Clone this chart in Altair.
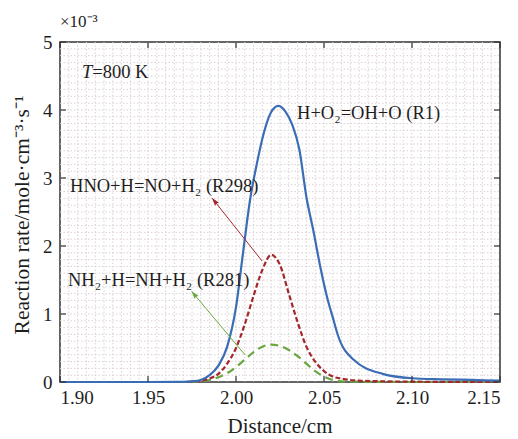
import altair as alt
import pandas as pd

# ---- data (y in units of 1e-3) ----
r1_x = [1.90, 1.95, 1.97, 1.975, 1.98, 1.985, 1.99, 1.995, 2.000, 2.004, 2.008, 2.012,
        2.016, 2.020, 2.024, 2.028, 2.032, 2.036, 2.040, 2.044, 2.048, 2.052, 2.055,
        2.058, 2.0667, 2.0833, 2.10, 2.1167, 2.1333, 2.15]
r1_y = [0.0, 0.0, 0.003, 0.01, 0.03, 0.10, 0.24, 0.52, 1.10, 1.90, 2.68, 3.23,
        3.68, 3.97, 4.06, 3.98, 3.78, 3.42, 2.72, 2.22, 1.68, 1.22, 0.95,
        0.68, 0.33, 0.12, 0.055, 0.04, 0.03, 0.02]

r298_x = [1.90, 1.95, 1.97, 1.98, 1.985, 1.99, 1.995, 2.000, 2.005, 2.010, 2.015, 2.020,
          2.025, 2.030, 2.035, 2.040, 2.045, 2.050, 2.055, 2.060, 2.0667, 2.0833, 2.10, 2.15]
r298_y = [0.0, 0.0, 0.0, 0.02, 0.05, 0.12, 0.27, 0.50, 0.85, 1.27, 1.65, 1.87,
          1.72, 1.30, 0.88, 0.52, 0.30, 0.16, 0.08, 0.05, 0.025, 0.01, 0.005, 0.0]

r281_x = [1.90, 1.95, 1.97, 1.98, 1.985, 1.99, 1.995, 2.000, 2.005, 2.010, 2.015, 2.020,
          2.025, 2.030, 2.035, 2.040, 2.045, 2.050, 2.055, 2.060, 2.0667, 2.10, 2.15]
r281_y = [0.0, 0.0, 0.0, 0.01, 0.03, 0.07, 0.13, 0.22, 0.33, 0.44, 0.52, 0.55,
          0.53, 0.47, 0.38, 0.27, 0.16, 0.08, 0.03, 0.01, 0.005, 0.0, 0.0]

x_ticks = [1.90, 1.95, 2.00, 2.05, 2.10, 2.15]
y_ticks = [0, 1, 2, 3, 4, 5]
x_grid = [round(1.905 + 0.005 * i, 3) for i in range(49)]
y_grid = [round(0.1 * i, 1) for i in range(1, 50)]

x_title = "Distance/cm"
y_title = "Reaction rate/mole\u00b7cm\u207b\u00b3\u00b7s\u207b\u00b9"

labels_text = ["H+O\u2082=OH+O (R1)", "HNO+H=NO+H\u2082 (R298)", "NH\u2082+H=NH+H\u2082 (R281)"]
labels_x = [2.0347, 1.9057, 1.9045]
labels_y = [3.96, 2.88, 1.50]

arrows = pd.DataFrame({
    "name": ["R298", "R281"],
    "x0": [2.0148, 2.0051], "y0": [1.78, 0.40],
    "x1": [1.9881, 1.9765], "y1": [2.65, 1.28],
    "color": ["#a3282e", "#6aa640"],
})

FONT = "Liberation Serif"
TXT = "#1e1e1e"
W, H = 440, 340

xs = alt.Scale(domain=[1.90, 2.15], nice=False, zero=False)
ys = alt.Scale(domain=[0, 5], nice=False, zero=False)

def line_df(xv, yv):
    return pd.DataFrame({"x": xv, "y": yv})

grid_x = alt.Chart(pd.DataFrame({"g": x_grid})).mark_rule(
    color="#dcd0d4", strokeDash=[1.5, 2], strokeWidth=1
).encode(x=alt.X("g:Q", scale=xs), y=alt.value(0), y2=alt.value(H))

grid_y = alt.Chart(pd.DataFrame({"g": y_grid})).mark_rule(
    color="#dcd0d4", strokeDash=[1.5, 2], strokeWidth=1
).encode(y=alt.Y("g:Q", scale=ys), x=alt.value(0), x2=alt.value(W))

base_axes = alt.Chart(line_df(r1_x, r1_y)).mark_line(opacity=0).encode(
    x=alt.X("x:Q", scale=xs,
            axis=alt.Axis(values=x_ticks, format=".2f", title=None,
                          grid=False, ticks=False, domain=False,
                          labelFont=FONT, labelFontSize=19, labelColor=TXT,
                          labelPadding=6)),
    y=alt.Y("y:Q", scale=ys,
            axis=alt.Axis(values=y_ticks, format="d", title=None,
                          grid=False, ticks=False, domain=False,
                          labelFont=FONT, labelFontSize=19, labelColor=TXT,
                          labelPadding=8)),
)

ticks_b = alt.Chart(pd.DataFrame({"t": x_ticks})).mark_rule(color="#333", strokeWidth=1.2).encode(
    x=alt.X("t:Q", scale=xs), y=alt.value(H), y2=alt.value(H - 6))
ticks_t = alt.Chart(pd.DataFrame({"t": x_ticks})).mark_rule(color="#333", strokeWidth=1.2).encode(
    x=alt.X("t:Q", scale=xs), y=alt.value(0), y2=alt.value(6))
ticks_l = alt.Chart(pd.DataFrame({"t": y_ticks})).mark_rule(color="#333", strokeWidth=1.2).encode(
    y=alt.Y("t:Q", scale=ys), x=alt.value(0), x2=alt.value(6))
ticks_r = alt.Chart(pd.DataFrame({"t": y_ticks})).mark_rule(color="#333", strokeWidth=1.2).encode(
    y=alt.Y("t:Q", scale=ys), x=alt.value(W), x2=alt.value(W - 6))

green = alt.Chart(line_df(r281_x, r281_y)).mark_line(
    color="#6aa640", strokeWidth=2.2, strokeDash=[8, 5], interpolate="monotone"
).encode(x=alt.X("x:Q", scale=xs), y=alt.Y("y:Q", scale=ys))
red = alt.Chart(line_df(r298_x, r298_y)).mark_line(
    color="#a3282e", strokeWidth=2.2, strokeDash=[5, 2.5], interpolate="monotone"
).encode(x=alt.X("x:Q", scale=xs), y=alt.Y("y:Q", scale=ys))
blue = alt.Chart(line_df(r1_x, r1_y)).mark_line(
    color="#3a6db5", strokeWidth=2.2, interpolate="monotone"
).encode(x=alt.X("x:Q", scale=xs), y=alt.Y("y:Q", scale=ys))

arrow_lines = alt.Chart(arrows).mark_rule(strokeWidth=1).encode(
    x=alt.X("x0:Q", scale=xs), y=alt.Y("y0:Q", scale=ys),
    x2="x1:Q", y2="y1:Q", color=alt.Color("color:N", scale=None))
arrow_heads = alt.Chart(arrows).mark_point(
    shape="M0,-1L0.45,0.6L0,0.35L-0.45,0.6Z", filled=True, size=120, opacity=1, angle=321
).encode(x=alt.X("x1:Q", scale=xs), y=alt.Y("y1:Q", scale=ys),
         color=alt.Color("color:N", scale=None))

labels = alt.Chart(pd.DataFrame({"t": labels_text, "x": labels_x, "y": labels_y})).mark_text(
    align="left", baseline="middle", font=FONT, fontSize=18.5, color=TXT
).encode(x=alt.X("x:Q", scale=xs), y=alt.Y("y:Q", scale=ys), text="t:N")

temp_T = alt.Chart(pd.DataFrame({"t": ["T"], "x": [1.9125], "y": [4.56]})).mark_text(
    align="left", baseline="middle", font=FONT, fontSize=18.5, fontStyle="italic", color=TXT
).encode(x=alt.X("x:Q", scale=xs), y=alt.Y("y:Q", scale=ys), text="t:N")
temp_rest = alt.Chart(pd.DataFrame({"t": ["=800 K"], "x": [1.9183], "y": [4.56]})).mark_text(
    align="left", baseline="middle", font=FONT, fontSize=18.5, color=TXT
).encode(x=alt.X("x:Q", scale=xs), y=alt.Y("y:Q", scale=ys), text="t:N")

exp_label = alt.Chart(pd.DataFrame({"t": ["\u00d710\u207b\u00b3"]})).mark_text(
    align="left", baseline="middle", font=FONT, fontSize=17, color=TXT
).encode(x=alt.value(0), y=alt.value(-20), text="t:N")

xtitle = alt.Chart(pd.DataFrame({"t": [x_title]})).mark_text(
    align="center", baseline="alphabetic", font=FONT, fontSize=21, color=TXT
).encode(x=alt.value(220), y=alt.value(391), text="t:N")

ytitle = alt.Chart(pd.DataFrame({"t": [y_title]})).mark_text(
    align="center", baseline="middle", font=FONT, fontSize=21.5, color=TXT, angle=270
).encode(x=alt.value(-37), y=alt.value(173), text="t:N")

chart = alt.layer(
    grid_x, grid_y, base_axes, green, red, blue, arrow_lines, arrow_heads,
    ticks_b, ticks_t, ticks_l, ticks_r, labels, temp_T, temp_rest, exp_label,
    xtitle, ytitle
).properties(
    width=W, height=H, autosize="none",
    padding={"left": 60, "top": 42, "right": 18, "bottom": 57},
    background="white"
).configure_view(stroke="#333", strokeWidth=1.5)

chart.save("out.html", embed_options={"renderer": "svg", "actions": False})
